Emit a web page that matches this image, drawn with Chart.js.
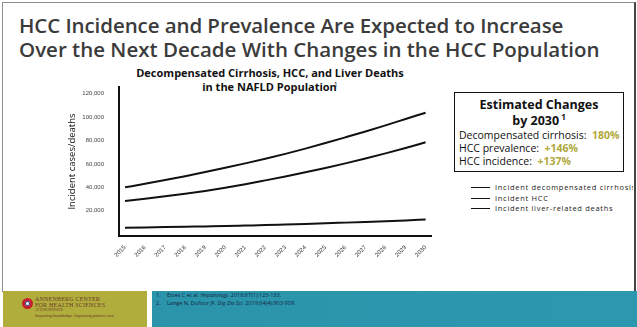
<!DOCTYPE html>
<html>
<head>
<meta charset="utf-8">
<script src="https://cdn.jsdelivr.net/npm/chart.js@4.4.1/dist/chart.umd.min.js"></script>
<style>
  html, body { margin: 0; padding: 0; }
  body { width: 637px; height: 327px; overflow: hidden; background: #fff; position: relative; font-family: "Open Sans", "Noto Sans", sans-serif; }
  .frame { position: absolute; left: 2px; top: 2px; width: 631px; height: 289px; border-left: 1px solid #8c8c8c; border-top: 1px solid #8c8c8c; border-right: 2px solid #444; }
  .slide-title { position: absolute; left: 19px; top: 13px; margin: 0; font-weight: 600; color: #3b3b3b; font-size: 20.5px; line-height: 24px; white-space: nowrap; }
  .slide-title .l1 { letter-spacing: -0.08px; }
  .chart-title { position: absolute; left: 120px; width: 300px; text-align: center; top: 66px; font-weight: 700; font-size: 11px; line-height: 13.5px; color: #111; white-space: nowrap; }
  .chart-title sup { font-size: 7px; font-weight: 400; line-height: 0; vertical-align: baseline; position: relative; top: -4px; margin-left: -3px; }
  #chartBox { position: absolute; left: 60px; top: 67px; width: 385px; height: 213px; }
  .changes { position: absolute; left: 454px; top: 92px; width: 168px; height: 78px; border: 1.5px solid #111; color: #111; }
  .changes .head { text-align: center; font-weight: 700; font-size: 12.5px; line-height: 16px; margin-top: 4px; }
  .changes .head sup { font-size: 8px; line-height: 0; vertical-align: baseline; position: relative; top: -5px; }
  .changes .row { font-size: 10.5px; line-height: 13px; padding-left: 4px; white-space: nowrap; }
  .changes .pct { color: #b0a83a; font-weight: 700; }
  #legend { position: absolute; left: 471px; top: 182px; width: 162px; overflow: hidden; }
  #legend .item { position: relative; height: 10.5px; white-space: nowrap; }
  #legend .swatch { position: absolute; left: 0; top: 5px; width: 19px; height: 0; border-top: 1.5px solid #111; }
  #legend .label { position: absolute; left: 24px; top: 0; font-size: 7.5px; line-height: 10px; letter-spacing: 0.7px; color: #222; }
  .foot-left { position: absolute; left: 3px; top: 291px; width: 144px; height: 36px; background: #b1ad3c; }
  .foot-right { position: absolute; left: 152px; top: 291px; width: 485px; height: 36px; background: linear-gradient(90deg, #2b94aa, #2c98b0); }
  .refs { position: absolute; left: 4px; top: 1px; font-size: 5.5px; line-height: 7.5px; color: #13243f; white-space: nowrap; }
  .refs span.n { display: inline-block; width: 11px; }
  .logo-mark { position: absolute; left: 19px; top: 7px; width: 11px; height: 11px; border-radius: 50%; background: #c8202a; }
  .logo-mark::after { content: ""; position: absolute; left: 3px; top: 3px; width: 5px; height: 5px; border-radius: 50%; background: #fff; box-shadow: 0 0 0 1px #2a3f8a inset; }
  .logo-text { position: absolute; left: 32px; top: 5px; font-family: "Liberation Serif", "DejaVu Serif", serif; color: #6b3b2c; white-space: nowrap; }
  .logo-text .a { font-size: 6px; line-height: 6px; letter-spacing: 0.2px; }
  .logo-text .b { font-size: 3.5px; line-height: 5px; }
  .logo-text .c { font-size: 4px; line-height: 6px; font-family: "Liberation Sans", sans-serif; }
</style>
</head>
<body>
<div class="frame"></div>
<h1 class="slide-title"><span class="l1">HCC Incidence and Prevalence Are Expected to Increase</span><br>Over the Next Decade With Changes in the HCC Population</h1>
<div class="chart-title">Decompensated Cirrhosis, HCC, and Liver Deaths<br>in the NAFLD Population<sup>1</sup></div>
<div id="chartBox"><canvas id="chart"></canvas></div>
<div class="changes">
  <div class="head">Estimated Changes<br>by 2030<sup> 1</sup></div>
  <div class="row">Decompensated cirrhosis:&nbsp; <span class="pct">180%</span></div>
  <div class="row">HCC prevalence:&nbsp; <span class="pct">+146%</span></div>
  <div class="row">HCC incidence:&nbsp; <span class="pct">+137%</span></div>
</div>
<div id="legend"></div>
<div class="foot-left">
  <div class="logo-mark"></div>
  <div class="logo-text">
    <div class="a">ANNENBERG CENTER</div>
    <div class="a">FOR HEALTH SCIENCES</div>
    <div class="b">AT EISENHOWER</div>
    <div class="c">Imparting knowledge. Improving patient care.</div>
  </div>
</div>
<div class="foot-right">
  <div class="refs">
    <div><span class="n">1.</span>Estes C et al. <i>Hepatology.</i> 2018;67(1):123-133.</div>
    <div><span class="n">2.</span>Lange N, Dufour JF. <i>Dig Dis Sci.</i> 2019;64(4):903-909.</div>
  </div>
</div>

<script>
// Projected annual counts in the NAFLD population, 2015-2030
const years = ['2015','2016','2017','2018','2019','2020','2021','2022','2023','2024','2025','2026','2027','2028','2029','2030'];
const decompensatedCirrhosis = [40000, 43000, 46200, 49500, 53000, 56600, 60400, 64300, 68500, 73000, 77700, 82600, 87600, 92800, 98200, 103600];
const incidentHCC = [5500, 5800, 6100, 6400, 6700, 7000, 7400, 7800, 8300, 8800, 9300, 9900, 10500, 11100, 11800, 12600];
const liverRelatedDeaths = [28400, 30300, 32300, 34500, 36900, 39600, 42600, 45900, 49300, 52800, 56500, 60400, 64500, 68900, 73500, 78400];
const seriesNames = ['Incident decompensated cirrhosis', 'Incident HCC', 'Incident liver-related deaths'];
const yTickValues = [20000, 40000, 60000, 80000, 100000, 120000];

const seriesValues = [decompensatedCirrhosis, incidentHCC, liverRelatedDeaths];

const datasets = seriesNames.map((name, i) => ({
  label: name,
  data: years.map((y, j) => ({ x: Number(y), y: seriesValues[i][j] })),
  borderColor: '#111',
  borderWidth: 2,
  pointRadius: 0,
  cubicInterpolationMode: 'monotone',
  fill: false
}));

new Chart(document.getElementById('chart'), {
  type: 'line',
  data: { datasets },
  options: {
    responsive: true,
    maintainAspectRatio: false,
    animation: false,
    layout: { padding: { top: 20, right: 14, left: 0, bottom: 0 } },
    plugins: { legend: { display: false }, tooltip: { enabled: false } },
    scales: {
      x: {
        type: 'linear',
        min: 2014.7,
        max: 2030.27,
        afterBuildTicks: (scale) => { scale.ticks = years.map(y => ({ value: Number(y) })); },
        afterFit: (scale) => { scale.height = 44; },
        grid: { display: false },
        border: { display: true, color: '#111', width: 2 },
        ticks: {
          autoSkip: false,
          minRotation: 45,
          maxRotation: 45,
          padding: 0,
          color: '#333',
          font: { family: 'Liberation Sans, sans-serif', size: 6 },
          callback: (v) => String(v)
        }
      },
      y: {
        type: 'linear',
        min: -1500,
        max: 125500,
        afterBuildTicks: (scale) => { scale.ticks = yTickValues.map(v => ({ value: v })); },
        afterFit: (scale) => { scale.width = 59; },
        grid: { display: false },
        border: { display: true, color: '#111', width: 2 },
        ticks: {
          padding: 7,
          color: '#444',
          font: { family: 'Liberation Sans, sans-serif', size: 6 },
          callback: (v) => v.toLocaleString('en-US')
        },
        title: {
          display: true,
          text: 'Incident cases/deaths',
          color: '#111',
          font: { family: 'Open Sans, sans-serif', size: 9.5 },
          padding: { top: 7, bottom: 0 }
        }
      }
    }
  }
});

// Legend entries built from the series names
const legendEl = document.getElementById('legend');
seriesNames.forEach((name) => {
  const item = document.createElement('div');
  item.className = 'item';
  item.innerHTML = '<span class="swatch"></span><span class="label"></span>';
  item.querySelector('.label').textContent = name;
  legendEl.appendChild(item);
});
</script>
</body>
</html>
